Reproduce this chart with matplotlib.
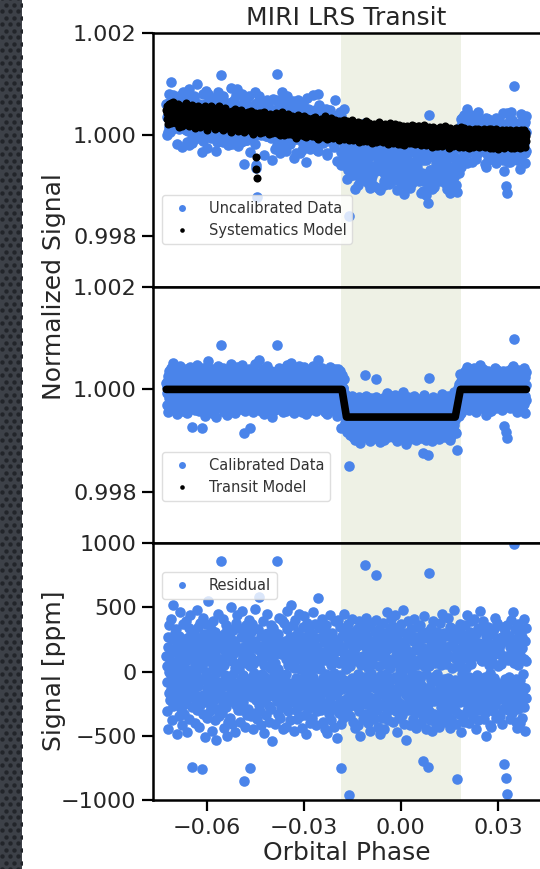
"""
MIRI LRS transit light curve: uncalibrated data, calibrated data, residuals
"""

import numpy as np
import matplotlib.pyplot as plt
from matplotlib.lines import Line2D
from matplotlib.ticker import FuncFormatter, StrMethodFormatter

# residuals, in units of 10 ppm
resid_10ppm = """
12 -31 4 -8 27 -45 19 0 -17 36 -22 9 -3 41 -14 25 -38 6 -27 15 52 -11 -2 30 -19
7 -24 33 -6 18 -49 22 -13 3 -35 11 28 -20 -1 46 -29 14 -9 21 -42 5 37 -16 24 -7
-33 16 2 -25 39 -12 8 -47 26 -4 13 -21 34 -10 -37 20 -5 44 -18 29 1 -74 -28 10 23
-15 31 -8 17 -40 6 25 -23 -2 48 -30 12 -11 35 -19 3 -43 21 9 -26 38 -6 15 -76 27
4 -18 42 -33 11 -7 29 -51 16 -24 0 37 -13 22 -36 8 -4 55 -21 13 -9 -31 26 -16 33
-27 9 -46 20 3 -14 39 -22 -6 31 -38 14 -1 24 -53 18 7 -29 45 -10 21 -17 -35 2 28
10 -20 86 -8 -32 23 -12 41 -25 5 17 -44 30 -3 -19 36 -28 12 -50 25 -7 15 -39 33 -11
19 -5 -36 27 -15 50 -23 8 -41 14 -2 32 -18 24 -9 -47 21 3 -26 38 -13 6 44 -30 16
-21 34 -11 2 -39 18 -6 27 -30 47 -16 9 -24 13 -3 -85 30 -12 20 -43 7 36 -19 11 -34
26 -8 15 -29 40 -17 4 -75 22 -35 11 31 -4 -20 37 -13 6 -45 24 -1 18 -32 49 -10 -22
8 -37 21 -14 33 -5 -26 17 58 -31 10 -18 28 -9 -42 14 -2 39 -24 20 -12 5 -48 29 -16
-4 23 -34 12 -20 45 -11 30 -7 -27 16 -39 3 25 -15 36 -29 9 -54 21 -6 34 -19 13 -1
31 -14 7 -41 26 -10 86 -23 18 -33 2 29 -17 42 -8 -36 22 -12 14 -28 40 -3 -21 17 -45
15 -28 38 -6 -19 24 -43 10 -2 33 -25 47 -13 5 -31 19 -9 27 -38 12 -16 52 -24 7 21
-10 36 -22 14 -46 3 28 -15 40 -30 9 -5 22 -37 17 -20 31 -8 -27 45 -13 2 -35 25 -6
20 -44 11 -18 35 -26 6 43 -12 -3 27 -34 16 -22 -49 38 -7 13 -29 24 -15 32 1 -40 18
-23 8 -11 29 -36 21 -4 -17 46 -28 14 -9 37 -20 3 -42 26 -14 19 -31 10 57 -25 6 -13
34 -19 2 -30 15 -8 41 -24 12 -39 28 -5 -16 23 -45 9 31 -12 -2 36 -27 17 -48 22 -7
13 -33 27 -10 -21 44 -15 5 -38 19 -6 30 -26 11 -1 -43 25 -18 39 -9 16 -29 8 -52 24
-17 40 -12 21 -32 7 -24 35 -3 16 -41 -75 28 -14 9 -36 19 -7 45 -22 13 -28 33 -11 2
26 -9 -30 14 -20 37 -96 22 -13 4 -35 29 -17 10 41 -26 -5 18 -39 31 -8 -22 15 -44 27
-6 19 -27 33 -14 8 -42 24 -2 -31 39 -18 11 -50 27 -10 5 -23 36 -15 21 -37 12 -4 30
83 -16 -25 9 42 -33 17 -7 28 -40 3 -19 35 -12 22 -46 14 -1 -28 38 -21 6 -34 18 -9
11 -37 24 -13 31 -5 -22 40 75 -30 16 -8 -43 27 -17 4 33 -25 12 -49 20 -3 29 -14 -36
22 -11 38 -27 6 -45 15 -19 30 -2 -33 25 -8 46 -21 10 -38 18 -5 -26 34 -13 3 41 -29
-14 27 -6 -39 20 -23 9 35 -17 -4 44 -31 13 -20 26 -47 7 -12 32 -24 17 -36 1 23 -10
37 -25 14 -3 -34 21 -15 48 -28 8 -41 19 -9 30 -18 3 -53 25 -11 16 -30 39 -6 -22 12
-19 6 -42 28 -13 33 -26 10 -1 -37 24 -16 41 -8 17 -32 27 -21 5 -44 35 -14 20 -3 -27
9 -30 23 -17 36 -6 -24 15 -40 29 -11 -70 18 -35 4 43 -20 12 -28 26 -2 -45 31 -15 8
-25 16 -74 4 -31 77 -12 -38 21 -7 34 -19 11 -46 25 -4 39 -23 14 -33 7 -16 28 -41 19
-2 31 -20 13 -36 24 -9 -43 17 -14 38 -28 5 22 -11 -32 45 -18 9 -25 30 -6 -39 15 -21
28 -12 6 -34 19 -23 42 -5 -29 12 -16 35 -44 20 -8 27 -37 3 -19 33 -10 -26 48 -15 11
-30 18 -7 25 -41 10 -14 -84 32 -20 4 -33 26 -11 37 -24 8 -47 16 -2 29 -18 -36 21 -5
14 -39 27 -9 -22 36 -13 3 -31 44 -18 10 -27 23 -4 -40 17 -12 31 -25 6 39 -16 -33 20
-11 25 -35 12 -19 41 -6 -28 18 -45 29 -3 15 -21 34 -14 -38 22 -7 11 -30 47 -24 9 -17
32 -16 8 -26 39 -12 -37 21 -4 16 -32 28 -9 -50 24 -19 13 35 -27 5 -13 30 -42 18 -1
-24 11 -43 29 -10 20 -31 7 33 -18 -5 42 -26 14 -36 23 -8 -22 38 -15 4 -34 26 -11 17
21 -35 14 -20 6 -41 27 -12 35 -29 10 -17 -72 24 -6 31 -23 12 -83 -8 -95 36 -19 9 -30
-13 28 -4 -37 19 -25 40 -9 15 -32 23 -18 46 -27 7 99 -21 -14 33 -39 11 -6 26 -44 17
5 -29 37 -15 22 -40 13 -7 -24 31 -11 18 -36 27 -2 -19 41 -28 10 -46 24 -13 34 -21 8
"""

# scatter of the systematics model around its trend, in units of 30 ppm
sys_scatter_30ppm = """
2 -4 5 0 -7 3 -1 6 -3 1 -5 4 -2 7 -6 0 3 -4 8 -1 -5 2 6 -3 1
-2 4 -6 1 5 -3 0 7 -4 2 -8 3 -1 5 -5 6 -2 0 4 -7 1 3 -3 6 -1
5 -1 -4 3 0 -6 8 -2 1 -5 4 -3 6 0 -7 2 5 -1 -4 3 -2 7 -5 1 -3
0 3 -5 6 -2 1 -8 4 -1 5 -3 2 7 -4 0 -6 3 1 -2 5 -7 4 -1 2 -4
6 -3 1 -5 4 0 -2 7 -6 3 -1 5 -4 2 -8 1 6 -3 0 4 -5 2 -1 8 -2
-4 2 7 -1 -5 3 0 -3 6 -2 4 -7 1 5 -4 0 3 -6 2 -1 5 -3 8 -5 1
3 -6 0 4 -2 5 -4 1 -7 6 -1 2 -3 7 0 -5 4 -2 1 -6 3 5 -4 0 2
-1 5 -3 2 -8 4 0 6 -2 -5 3 1 -4 5 -1 7 -6 2 -3 4 0 -2 6 -7 3
4 -2 1 -6 5 -3 7 0 -4 2 -1 6 -5 3 -2 0 4 -7 1 5 -3 2 -6 4 -1
-3 6 -5 1 3 -2 0 5 -4 7 -1 -6 2 4 -3 1 -8 5 0 -2 6 -4 3 -1 -23
-31 -37 4 -3 2 -5 6 0 -2 5 -7 3 1 -4 6 -1 2 -6 4 0 -3 7 -5 1 3
1 -4 3 6 -2 0 -5 4 -1 2 -7 5 -3 1 6 -4 0 3 -6 2 -1 5 -2 -5 4
-5 2 0 -3 7 -1 4 -6 3 -2 5 1 -4 0 6 -7 2 -1 4 -3 8 -5 1 -2 3
2 -7 5 -1 0 4 -3 6 -5 1 -2 3 -6 7 -1 2 -4 5 0 -3 1 -6 4 -2 6
-2 4 -1 5 -6 3 0 -4 2 -8 6 -3 1 4 -5 0 7 -2 3 -1 -4 5 -6 2 0
6 -1 -5 2 4 -3 7 -6 0 3 -2 5 -4 1 -7 6 -1 2 -3 4 0 -5 3 -1 5
-3 5 2 -6 1 -4 3 0 6 -2 -5 4 -1 7 -3 2 -6 0 5 -4 1 3 -7 4 -2
4 0 -3 6 -5 2 -1 5 -4 3 1 -6 2 -2 8 -5 0 4 -3 1 -7 6 -1 3 -4
-1 3 -6 4 0 -2 5 -3 7 -5 2 -1 4 -6 1 3 -4 0 6 -2 -5 2 5 -3 1
5 -4 1 -2 6 -7 3 0 -3 4 -1 2 -5 6 0 -4 3 -2 7 -6 1 4 -3 2 -1
-2 6 -4 3 -1 5 -6 2 0 -3 4 1 -5 3 -2 7 -4 0 2 -6 5 -1 3 -5 4
3 -1 4 -5 2 0 -3 6 -2 1 -7 5 -4 2 3 -1 6 -5 0 4 -3 1 -6 5 -2
-4 2 -1 7 -3 0 5 -6 3 -2 4 1 -5 6 -1 -3 2 5 -4 0 3 -7 1 4 -3
1 -5 6 -2 4 -3 0 2 -6 5 -1 3 -4 0 7 -2 -5 3 1 -3 6 -4 2 -1 5
-6 3 0 -4 5 -1 2 -3 6 -5 1 4 -2 3 -7 5 0 -1 4 -6 2 -3 7 0 -4
2 -3 5 1 -6 4 -2 0 3 -5 7 -1 -4 2 5 -3 1 -6 4 0 -2 6 -5 3 -1
4 -6 2 -1 3 -4 6 -2 0 5 -7 3 1 -5 4 -1 2 -3 6 -4 0 5 -2 1 -5
-1 5 -3 4 -2 0 -5 7 -4 2 1 -3 6 -1 -6 3 5 -2 0 4 -5 2 -3 6 -1
3 -2 6 -5 0 4 -1 2 -6 3 -3 5 -4 1 7 -2 -5 4 0 -1 3 -6 5 -2 2
-5 4 -1 3 -4 6 0 -3 5 -2 2 -7 4 -1 3 -5 6 -2 1 -4 5 0 -3 4 -6
1 -3 5 -6 2 0 -4 3 -1 6 -5 2 4 -3 -1 5 -6 3 0 -2 4 -5 1 7 -3
-2 4 0 -5 6 -3 2 -1 5 -7 3 1 -4 6 -2 0 3 -5 4 -1 2 -6 5 -3 1
5 -1 -4 2 -3 6 -5 3 0 -2 4 -6 1 5 -3 2 -1 -4 7 -5 3 0 -2 4 -6
-3 2 6 -4 1 -5 3 0 -6 4 -2 5 -1 3 -7 6 -2 1 -3 5 -4 2 0 -5 3
2 -6 3 -1 5 -2 -4 6 -3 1 0 -5 4 -2 6 -1 3 -6 2 -3 5 -4 1 -2 4
-4 3 -2 5 -5 1 6 -3 2 -1 -6 4 0 -2 5 -4 3 1 -5 6 -1 -3 4 -6 2
6 -2 1 -4 3 -6 2 5 -1 -3 4 -5 2 0 -4 6 -2 3 -1 5 -7 1 4 -3 0
-1 4 -5 2 -2 6 -3 0 5 -4 1 -6 3 -1 4 -5 2 6 -3 0 -4 5 -2 3 -5
3 -5 2 -3 6 -1 4 -6 1 -2 5 0 -4 3 -6 2 -1 5 -3 4 -2 6 -5 1 -3
-2 5 -4 1 3 -6 0 4 -3 6 -1 -5 2 -3 5 1 -4 6 -2 0 3 -5 4 -1 2
"""

# systematics trend (black band centre, top panel)
sys_phase = [-0.0725, -0.06, -0.045, -0.03, -0.015, 0.0, 0.015, 0.03, 0.0388]
sys_trend = [1.00042, 1.00034, 1.00025, 1.00016, 1.00007, 1.0, 0.99995, 0.99992, 0.99991]

# transit model (middle panel)
transit_phase = [-0.0725, -0.0182, -0.0168, 0.0168, 0.0184, 0.0388]
transit_flux = [1.0, 1.0, 0.99946, 0.99946, 1.0, 1.0]

phase_start, phase_end = -0.0725, 0.0388
transit_window = (-0.0185, 0.0185)

resid_ppm = np.array(resid_10ppm.split(), dtype=float) * 10
sys_scatter = np.array(sys_scatter_30ppm.split(), dtype=float) * 30e-6
phase = np.linspace(phase_start, phase_end, resid_ppm.size)

model_pts = np.interp(phase, transit_phase, transit_flux)
sys_pts = np.interp(phase, sys_phase, sys_trend) + sys_scatter
calibrated = model_pts + resid_ppm * 1e-6
uncalibrated = sys_pts + (model_pts - 1.0) + resid_ppm * 1e-6

BLUE = '#4a84ea'
TXT = '#262626'
S_BLUE, S_BLACK = 58, 34

W, H = 540, 869
fig = plt.figure(figsize=(W / 100, H / 100), dpi=100)

# dotted dark strip at the left edge (slide background)
bg = fig.add_axes([0, 0, 22 / W, 1])
bg.set_xlim(0, 22)
bg.set_ylim(0, H)
bg.add_patch(plt.Rectangle((0, 0), 22, H, color='#3d4148', zorder=0))
gx, gy = np.meshgrid(np.arange(2, 24, 8.0), np.arange(0, H + 6, 6.5))
gx = gx + (np.arange(gy.shape[0])[:, None] % 2) * 4
bg.scatter(gx.ravel(), gy.ravel(), s=10, color='#22252a', linewidths=0)
bg.axis('off')

left = 153.3 / W
width = 1.0 - left


def panel(top, bottom):
    ax = fig.add_axes([left, 1 - bottom / H, width, (bottom - top) / H])
    ax.set_xlim(-0.0765, 0.0430)
    ax.axvspan(*transit_window, color='#eef1e5', lw=0, zorder=0)
    for s in ax.spines.values():
        s.set_linewidth(1.8)
        s.set_color('black')
    ax.spines['right'].set_visible(False)
    ax.tick_params(axis='y', length=8, width=1.6, labelsize=16,
                   labelcolor=TXT, pad=4)
    ax.tick_params(axis='x', length=8, width=1.6, labelsize=16,
                   labelcolor=TXT, pad=5)
    return ax


ax1 = panel(33, 287)
ax2 = panel(287, 543)
ax3 = panel(543, 800)

# top: uncalibrated data + systematics model
ax1.scatter(phase, uncalibrated, s=S_BLUE, color=BLUE, linewidths=0, zorder=2)
ax1.scatter(phase, sys_pts, s=S_BLACK, color='black', linewidths=0, zorder=3)
ax1.set_ylim(0.997, 1.002)
ax1.set_yticks([0.998, 1.000, 1.002])
ax1.yaxis.set_major_formatter(StrMethodFormatter('{x:.3f}'))
ax1.tick_params(axis='x', length=0, labelbottom=False)
ax1.set_title('MIRI LRS Transit', fontsize=18, color=TXT, pad=6)

# middle: calibrated data + transit model
ax2.scatter(phase, calibrated, s=S_BLUE, color=BLUE, linewidths=0, zorder=2)
ax2.plot(transit_phase, transit_flux, color='black', lw=5.5,
         solid_joinstyle='round', solid_capstyle='round', zorder=3)
ax2.set_ylim(0.997, 1.002)
ax2.set_yticks([0.998, 1.000, 1.002])
ax2.yaxis.set_major_formatter(StrMethodFormatter('{x:.3f}'))
ax2.tick_params(axis='x', length=0, labelbottom=False)

# bottom: residuals
ax3.scatter(phase, resid_ppm, s=S_BLUE, color=BLUE, linewidths=0, zorder=2)
ax3.set_ylim(-1000, 1000)
ax3.set_yticks([-1000, -500, 0, 500, 1000])
ax3.set_xticks([-0.06, -0.03, 0.0, 0.03])
ax3.xaxis.set_major_formatter(
    FuncFormatter(lambda v, p: f'{v:.2f}'.replace('-', '\u2212')))
ax3.set_xlabel('Orbital Phase', fontsize=18, color=TXT, labelpad=2)


def dot(color, ms):
    return Line2D([], [], ls='none', marker='o', color=color,
                  markersize=ms, markeredgewidth=0)


leg_kw = dict(loc='upper left', borderaxespad=0, fontsize=10.5,
              framealpha=0.8, edgecolor='#d6d6d6', labelcolor='#333333')
ax1.legend([dot(BLUE, 5), dot('black', 3.3)],
           ['Uncalibrated Data', 'Systematics Model'],
           bbox_to_anchor=(0.0225, 0.362), **leg_kw)
ax2.legend([dot(BLUE, 5), dot('black', 3.3)],
           ['Calibrated Data', 'Transit Model'],
           bbox_to_anchor=(0.0225, 0.355), **leg_kw)
ax3.legend([dot(BLUE, 5)], ['Residual'],
           bbox_to_anchor=(0.0225, 0.887), **leg_kw)

fig.text(54 / W, 1 - 287 / H, 'Normalized Signal', rotation=90,
         ha='center', va='center', fontsize=18, color=TXT)
fig.text(54 / W, 1 - 671 / H, 'Signal [ppm]', rotation=90,
         ha='center', va='center', fontsize=18, color=TXT)

fig.savefig('out.png', dpi=100)
